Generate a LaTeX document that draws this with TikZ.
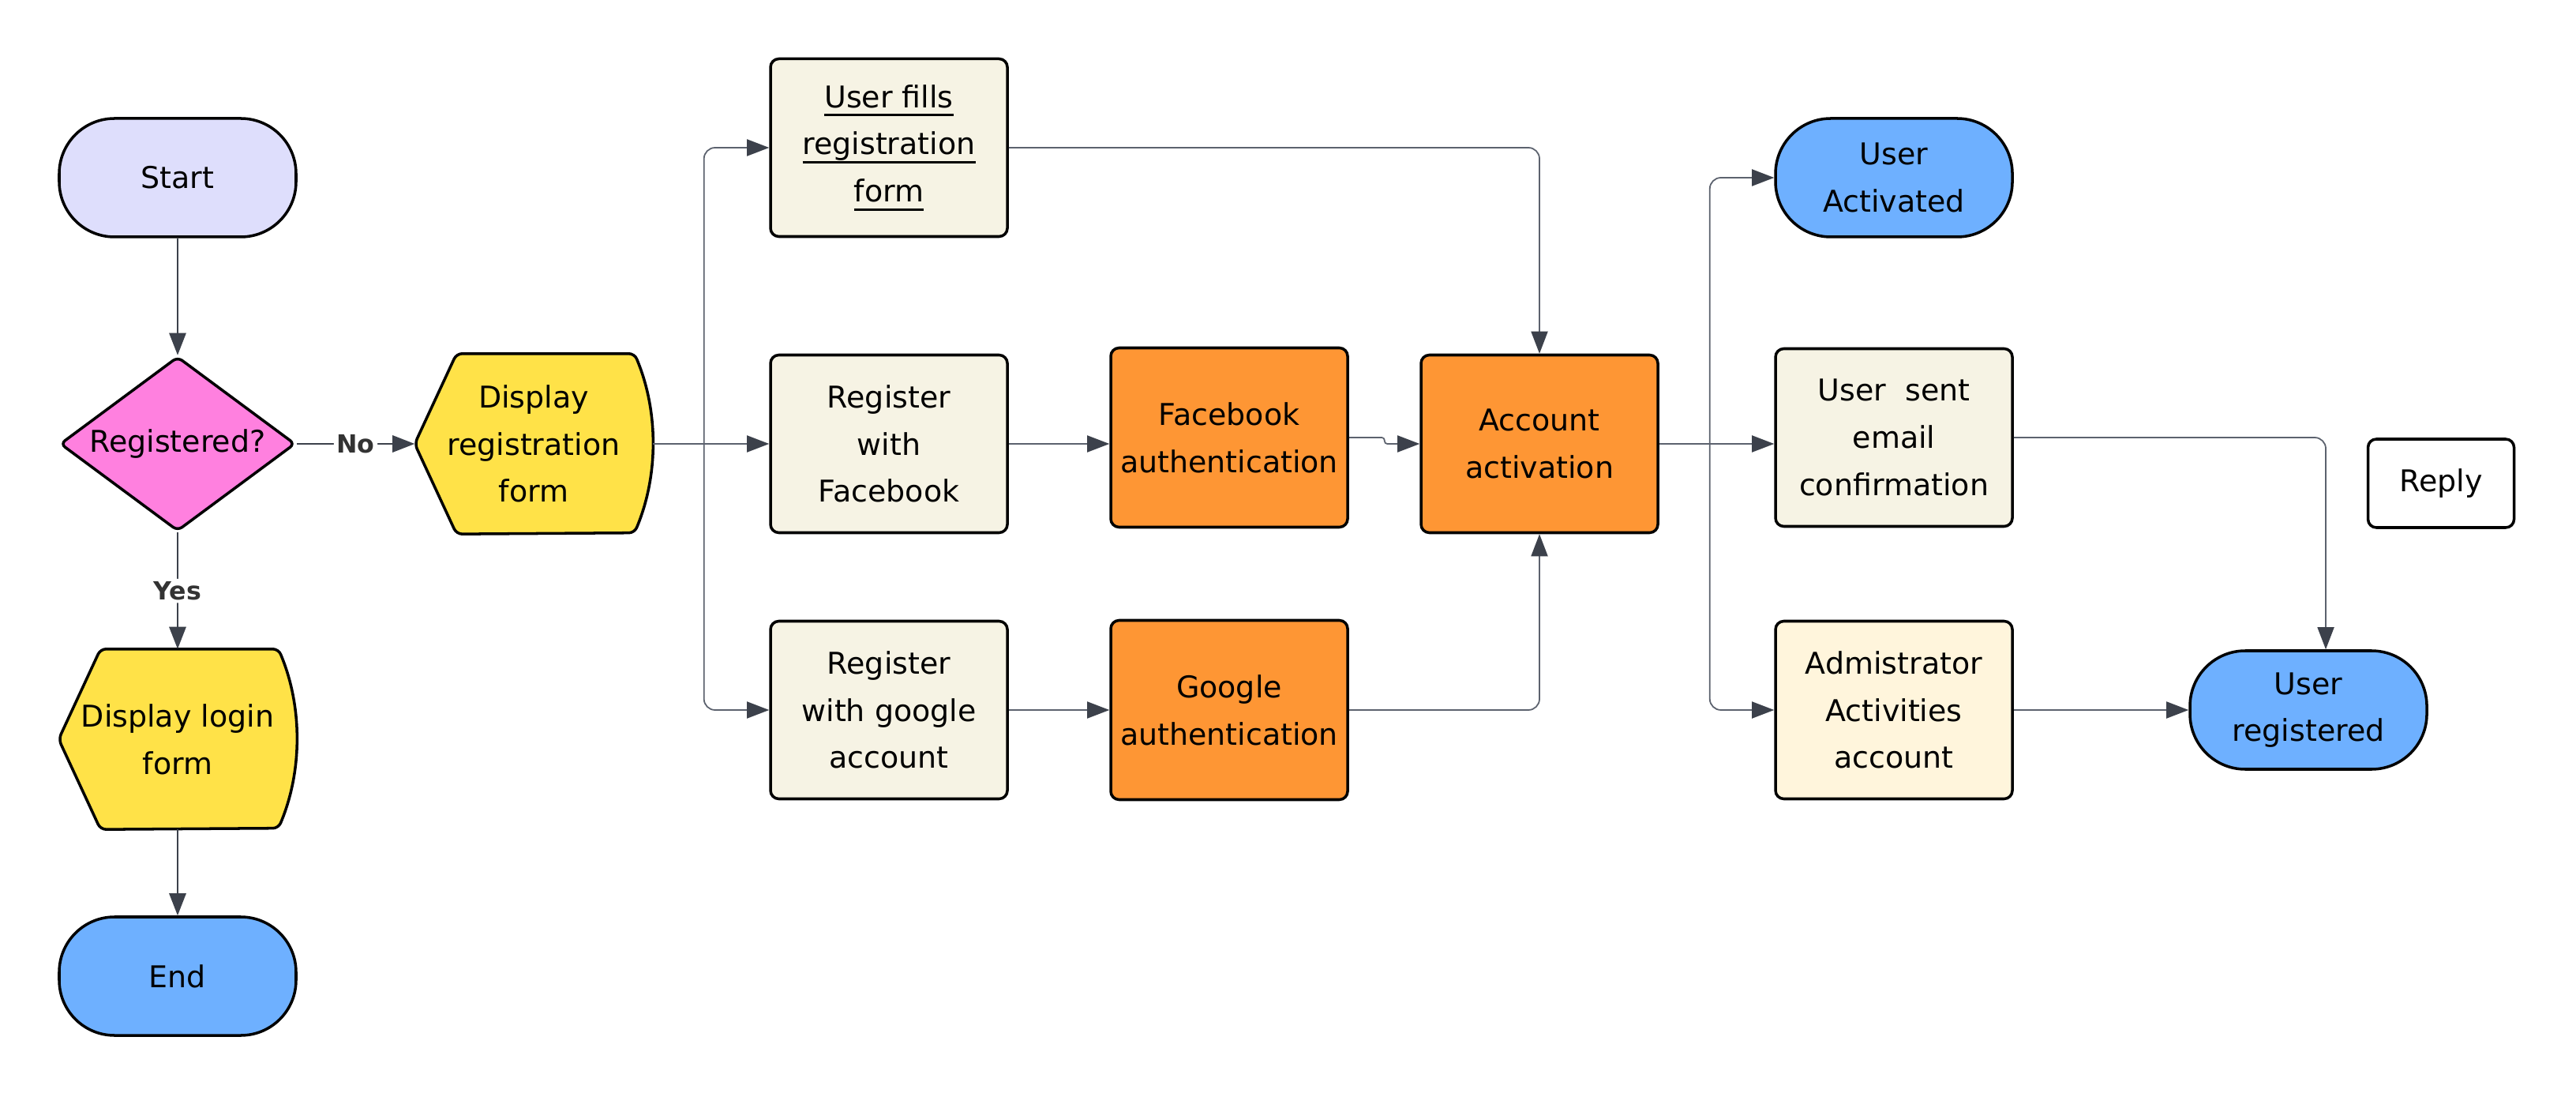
\documentclass[tikz,border=0pt]{standalone}
\usepackage{fontspec}
\setmainfont{DejaVu Sans}
\usepackage{xcolor}
\usepackage{tikz}
\usetikzlibrary{shapes.geometric,calc,backgrounds,arrows.meta}

\definecolor{startfill}{RGB}{222,222,252}
\definecolor{decfill}{RGB}{255,128,223}
\definecolor{dispfill}{RGB}{255,226,72}
\definecolor{termfill}{RGB}{110,176,255}
\definecolor{procfill}{RGB}{246,243,228}
\definecolor{authfill}{RGB}{254,150,52}
\definecolor{adminfill}{RGB}{255,245,220}
\definecolor{linegray}{RGB}{92,98,110}
\definecolor{tipgray}{RGB}{60,65,75}

% display symbol drawn round an invisible node
\newcommand\dispshape[2]{%
  \draw[line width=1pt, fill=#2, rounded corners=2pt]
    ($(#1.north west)+(0.53,0)$) -- ($(#1.north east)+(-0.23,0)$)
    arc[start angle=22.9, end angle=-22.9, radius=2.915]
    -- ($(#1.south west)+(0.53,0)$) -- (#1.west) -- cycle;
}
% heavier underline at a fixed distance below the baseline
\newcommand\thickul[1]{\leavevmode\setbox0=\hbox{#1}\rlap{\rule[-3.2pt]{\wd0}{0.8pt}}\box0}

\begin{document}
\begin{tikzpicture}[
    font=\fontsize{10.8}{17}\selectfont,
    box/.style={draw, line width=1pt, rounded corners=3pt, align=center,
      minimum width=3cm, minimum height=2.25cm, inner sep=2pt, fill=procfill},
    term/.style={draw, line width=1pt, rounded corners=0.7cm, align=center,
      minimum width=3cm, minimum height=1.5cm, fill=termfill},
    disp/.style={align=center, minimum width=3cm, minimum height=2.27cm, inner sep=0pt},
    conn/.style={draw=linegray, line width=0.5pt, rounded corners=4pt,
      -{Triangle[length=8pt,width=6pt,color=tipgray]}},
    mainconn/.style={conn, line width=0.8pt, draw=tipgray},
    lbl/.style={font=\fontsize{9}{9}\selectfont\bfseries, text=black!80, fill=white, inner sep=1pt}
  ]
    \useasboundingbox (0,0) rectangle (32.63,13.88);

    \node[term, fill=startfill] (start) at (2.25,11.63) {Start};
    \node[draw, diamond, line width=1pt, rounded corners=2pt, fill=decfill,
      minimum width=2.98cm, minimum height=2.21cm, inner sep=0pt,
      shape aspect=1.35] (reg) at (2.25,8.26) {Registered?};
    \node[disp] (dispreg) at (6.76,8.26) {Display\\registration\\form};
    \node[disp] (displogin) at (2.25,4.52) {Display login\\form};
    \node[term] (end) at (2.25,1.52) {End};

    \node[box] (fills) at (11.26,12.01) {\thickul{User fills}\\\thickul{registration}\\\thickul{form}};
    \node[box] (regfb) at (11.26,8.26) {Register\\with\\Facebook};
    \node[box] (reggoogle) at (11.26,4.89) {Register\\with google\\account};
    \node[box, fill=authfill, minimum height=2.27cm] (fbauth) at (15.57,8.34) {Facebook\\authentication};
    \node[box, fill=authfill, minimum height=2.27cm] (gauth) at (15.57,4.89) {Google\\authentication};
    \node[box, fill=authfill] (activ) at (19.50,8.26) {Account\\activation};

    \node[term] (useract) at (23.99,11.63) {User\\Activated};
    \node[box] (email) at (23.99,8.34) {User\ \ sent\\email\\confirmation};
    \node[box, fill=adminfill] (admin) at (23.99,4.89) {Admistrator\\Activities\\account};
    \node[box, fill=white, minimum width=1.85cm, minimum height=1.12cm] (reply) at (30.92,7.76) {Reply};
    \node[term] (userreg) at (29.24,4.89) {User\\registered};

    \begin{scope}[on background layer]
      \fill[white] (0,0) rectangle (32.63,13.88);
      \dispshape{dispreg}{dispfill}
      \dispshape{displogin}{dispfill}
    \end{scope}

    \draw[mainconn] (start) -- (reg);
    \draw[mainconn] (reg) -- node[lbl] {No} (dispreg);
    \draw[mainconn] (reg) -- node[lbl] {Yes} (displogin);
    \draw[mainconn] (displogin) -- (end);

    \coordinate (split1) at ($(dispreg.east)+(0.65,0)$);
    \draw[conn] (dispreg.east) -- (regfb.west);
    \draw[conn] (split1) |- (fills.west);
    \draw[conn] (split1) |- (reggoogle.west);

    \draw[conn] (regfb.east) -- (regfb.east -| fbauth.west);
    \draw[conn] (reggoogle.east) -- (gauth.west);
    \draw[conn] (fills.east) -| (activ.north);
    \draw[conn] (gauth.east) -| (activ.south);
    \draw[conn, rounded corners=1pt] (fbauth.east) -- ++(0.45,0) |- (activ.west);

    \coordinate (split2) at ($(activ.east)+(0.64,0)$);
    \draw[conn] (activ.east) -- (activ.east -| email.west);
    \draw[conn] (split2) |- (useract.west);
    \draw[conn] (split2) |- (admin.west);
    \draw[conn] (email.east) -| ([xshift=0.22cm]userreg.north);
    \draw[conn] (admin.east) -- (userreg.west);
\end{tikzpicture}
\end{document}
